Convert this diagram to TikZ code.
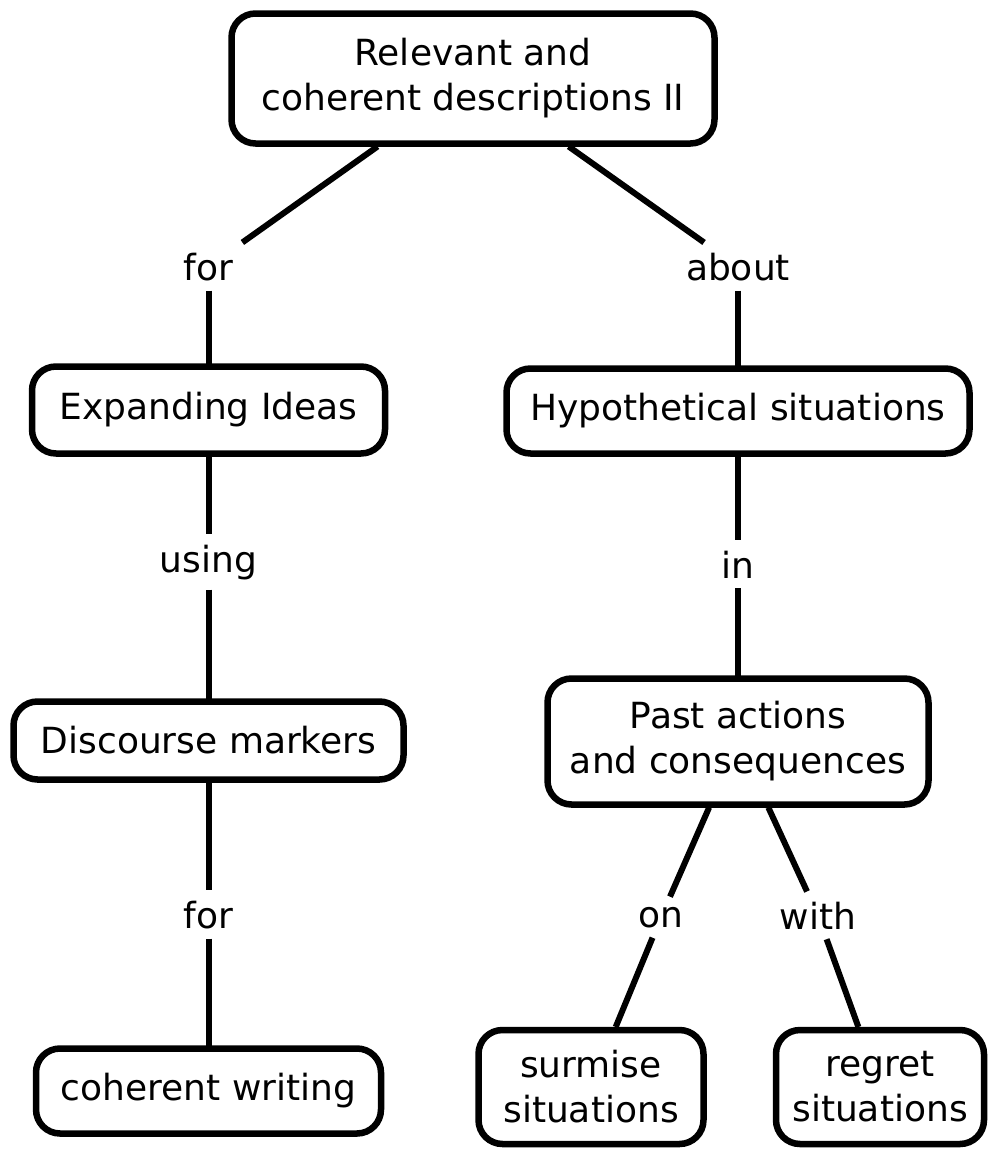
\documentclass[tikz,border=0pt]{standalone}
\usepackage{fontspec}
\setmainfont{DejaVu Sans}
\begin{document}
\begin{tikzpicture}[x=1pt,y=-1pt,
  concept/.style={draw=black, line width=6.5pt, rounded corners=24pt, fill=white,
    align=center, inner sep=0pt, outer sep=3pt, font=\fontsize{36}{45}\selectfont},
  lbl/.style={inner sep=10pt, font=\fontsize{36}{45}\selectfont},
  conn/.style={draw=black, line width=6pt}]
\useasboundingbox (0,0) rectangle (995,1152);
% concepts
\node[concept, minimum width=483pt, minimum height=130pt] (top) at (473,78.5) {Relevant and\\coherent descriptions II};
\node[concept, minimum width=353pt, minimum height=87pt] (expand) at (208.5,410) {Expanding Ideas};
\node[concept, minimum width=463pt, minimum height=85pt] (hypo) at (738,411) {Hypothetical situations};
\node[concept, minimum width=390pt, minimum height=78pt] (disc) at (208.5,740.5) {Discourse markers};
\node[concept, minimum width=381pt, minimum height=126pt] (past) at (738,741.5) {Past actions\\and consequences};
\node[concept, minimum width=345pt, minimum height=85pt] (cohw) at (208.5,1091) {coherent writing};
\node[concept, minimum width=225pt, minimum height=114pt] (surm) at (591,1087) {surmise\\situations};
\node[concept, minimum width=208pt, minimum height=114pt] (regr) at (880,1087) {regret\\situations};
% linking phrases
\node[lbl, anchor=base] (for1) at (208.5,280) {for};
\node[lbl, anchor=base] (about) at (738,280) {about};
\node[lbl, anchor=base] (using) at (208.5,572) {using};
\node[lbl, anchor=base] (in) at (738,578) {in};
\node[lbl, anchor=base] (for2) at (208.5,928) {for};
\node[lbl, anchor=base] (on) at (661,927) {on};
\node[lbl, anchor=base] (with) at (818,929) {with};
% connectors
\draw[conn] (top) -- (for1);
\draw[conn] (for1) -- (expand);
\draw[conn] (top) -- (about);
\draw[conn] (about) -- (hypo);
\draw[conn] (expand) -- (using);
\draw[conn] (using) -- (disc);
\draw[conn] (disc) -- (for2);
\draw[conn] (for2) -- (cohw);
\draw[conn] (hypo) -- (in);
\draw[conn] (in) -- (past);
\draw[conn] (past) -- (on);
\draw[conn] (on) -- (surm);
\draw[conn] (past) -- (with);
\draw[conn] (with) -- (regr);
\end{tikzpicture}
\end{document}
